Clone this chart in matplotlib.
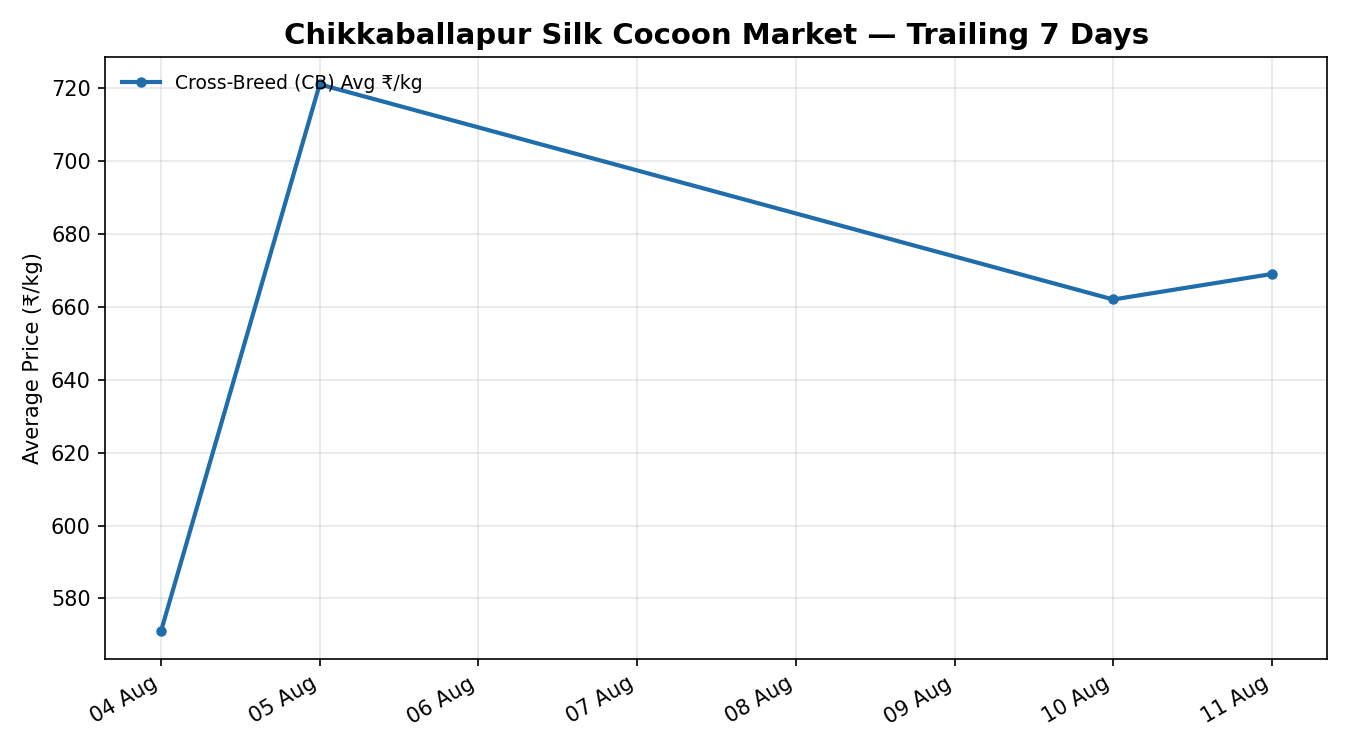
import matplotlib
matplotlib.use("Agg")
import matplotlib.pyplot as plt
import matplotlib.dates as mdates
import pandas as pd

# data
dates = ["2025-08-04", "2025-08-05", "2025-08-10", "2025-08-11"]
cb_avg_price = [571, 721, 662, 669]

series_label = "Cross-Breed (CB) Avg \u20b9/kg"
title = "Chikkaballapur Silk Cocoon Market \u2014 Trailing 7 Days"

x = pd.to_datetime(dates)

fig, ax = plt.subplots(figsize=(9, 5), dpi=150)
ax.plot(x, cb_avg_price, marker="o", markersize=4, linewidth=2,
        color="#1f6dab", label=series_label)

ax.set_title(title, fontsize=14, fontweight="bold")
ax.set_ylabel("Average Price (\u20b9/kg)", fontsize=10)
ax.xaxis.set_major_locator(mdates.DayLocator())
ax.xaxis.set_major_formatter(mdates.DateFormatter("%d %b"))
ax.grid(True, alpha=0.3)
ax.legend(loc="upper left", frameon=False, fontsize=9)
fig.autofmt_xdate()
plt.tight_layout()

fig.savefig("out.png", dpi=150)
